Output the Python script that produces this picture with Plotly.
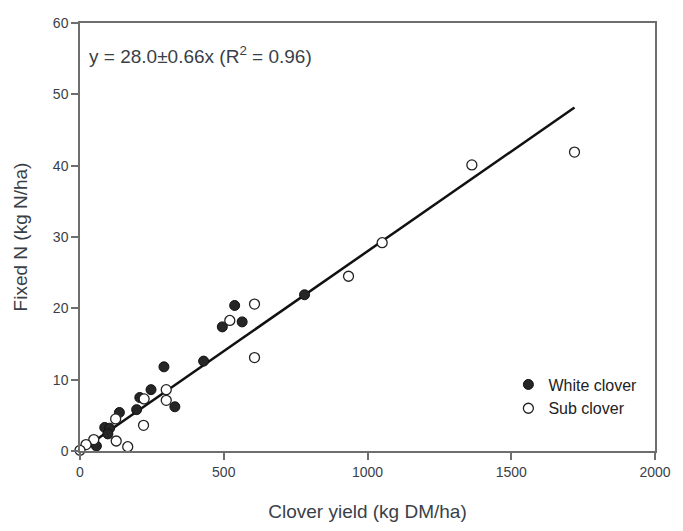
import plotly.graph_objects as go

# Data
white_x = [538, 495, 564, 781, 430, 292, 247, 208, 330, 197, 137, 86, 103, 97, 57]
white_y = [20.4, 17.4, 18.1, 21.9, 12.6, 11.8, 8.6, 7.5, 6.2, 5.8, 5.4, 3.3, 3.2, 2.4, 0.7]

sub_x = [1720, 1363, 1051, 934, 607, 607, 521, 300, 300, 223, 221, 124, 126, 166, 48, 21, 0]
sub_y = [41.9, 40.1, 29.2, 24.5, 20.6, 13.1, 18.3, 8.6, 7.1, 7.3, 3.6, 4.5, 1.4, 0.6, 1.6, 0.9, 0.1]

fit_x = [0, 1720]
slope = 0.028
fit_y = [v * slope for v in fit_x]

x_ticks = [0, 500, 1000, 1500, 2000]
y_ticks = [0, 10, 20, 30, 40, 50, 60]

txt = "#3a3f47"
axc = "#6e6e6e"
font = "Liberation Sans, Arial, sans-serif"

fig = go.Figure()
fig.add_trace(go.Scatter(x=fit_x, y=fit_y, mode="lines",
                         line=dict(color="#111111", width=2.5), showlegend=False))
fig.add_trace(go.Scatter(x=white_x, y=white_y, mode="markers", name="White clover",
                         cliponaxis=False,
                         marker=dict(symbol="circle", size=10, color="#262626",
                                     line=dict(color="#111111", width=1))))
fig.add_trace(go.Scatter(x=sub_x, y=sub_y, mode="markers", name="Sub clover",
                         cliponaxis=False,
                         marker=dict(symbol="circle", size=10, color="white",
                                     line=dict(color="#222222", width=1.3))))

fig.update_layout(
    width=683, height=531,
    margin=dict(l=80, r=21, t=23, b=77),
    paper_bgcolor="white", plot_bgcolor="white",
    font=dict(family=font, color=txt, size=13),
    xaxis=dict(range=[0, 2000], tickvals=x_ticks, showgrid=False, zeroline=False,
               showline=True, linecolor=axc, linewidth=1.5, mirror=True,
               ticks="outside", ticklen=7, tickcolor=axc, tickwidth=1.5,
               tickfont=dict(size=14, color=txt),
               title=dict(text="Clover yield (kg DM/ha)", font=dict(size=19, color=txt), standoff=26)),
    yaxis=dict(range=[0, 60], tickvals=y_ticks, showgrid=False, zeroline=False,
               showline=True, linecolor=axc, linewidth=1.5, mirror=True,
               ticks="outside", ticklen=7, tickcolor=axc, tickwidth=1.5,
               tickfont=dict(size=14, color=txt),
               title=dict(text="Fixed N (kg N/ha)", font=dict(size=19, color=txt), standoff=20)),
    legend=dict(x=0.745, y=0.195, xanchor="left", yanchor="top",
                bgcolor="rgba(0,0,0,0)", font=dict(size=16, color="#222222"),
                tracegroupgap=0),
    annotations=[dict(text="y = 28.0±0.66x (R<sup>2</sup> = 0.96)", xref="paper", yref="paper",
                      x=0.012, y=0.925, xanchor="left", yanchor="middle", showarrow=False,
                      font=dict(size=19, color=txt))],
)

fig.write_html("out.html")
